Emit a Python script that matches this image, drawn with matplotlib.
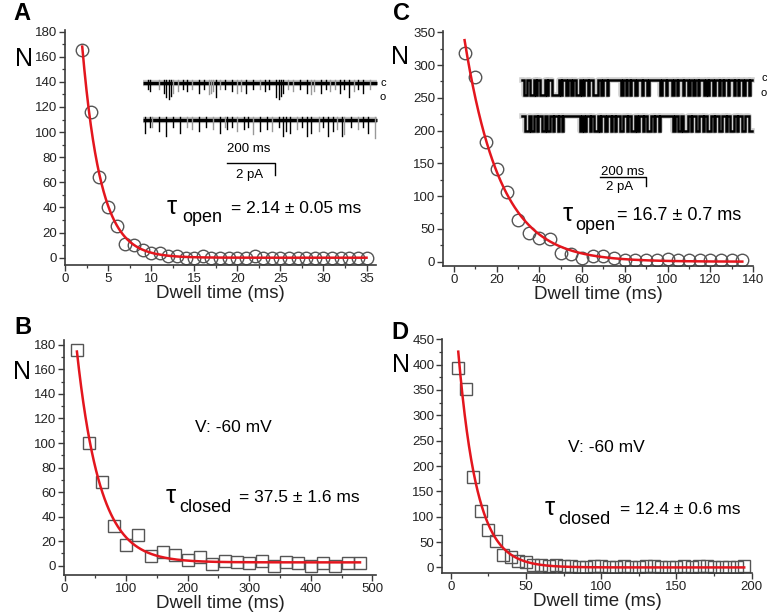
import numpy as np
import matplotlib
matplotlib.use("Agg")
import matplotlib.pyplot as plt
from matplotlib.ticker import MultipleLocator

plt.rcParams['font.family'] = ['Liberation Sans', 'DejaVu Sans']

# ---- histogram data ----
tA = list(range(2, 36))
nA = [165, 116, 64, 40, 25, 11, 10, 6, 4, 4, 1, 1, 0, 0, 1, 0, 0, 0, 0, 0,
      1, 0, 0, 0, 0, 0, 0, 0, 0, 0, 0, 0, 0, 0]
tC = list(range(5, 140, 5))
nC = [318, 282, 182, 141, 106, 63, 43, 36, 35, 14, 12, 6, 9, 8, 5, 3, 2, 2,
      2, 4, 3, 2, 2, 3, 2, 2, 3]
tB = list(range(20, 500, 20))
nB = [176, 100, 68, 32, 17, 25, 8, 11, 9, 5, 7, 1, 4, 3, 2, 4, 0, 3, 2, 0,
      2, 0, 2, 2]
tD = list(range(5, 200, 5))
nD = [394, 351, 178, 112, 74, 52, 25, 20, 12, 11, 5, 4, 2, 5, 2, 2, 1, 1,
      2, 2, 1, 1, 2, 1, 1, 2, 2, 1, 1, 1, 2, 1, 2, 2, 1, 1, 1, 1, 2]

# single exponential fits: amplitude, tau (ms), offset
fitA = (428, 2.14, 0)
fitC = (456, 16.7, 0)
fitB = (293, 37.5, 2.7)
fitD = (637, 12.4, 0)

# ---- single channel traces (positions as fraction of trace length) ----
# panel A: brief openings, (position, depth, dark?)
spikesA1 = [(0.02, 0.4, 1), (0.03, 0.5, 1), (0.07, 0.4, 0), (0.09, 0.6, 1), (0.10, 0.9, 1),
            (0.11, 1.0, 1), (0.12, 0.8, 1), (0.13, 0.6, 0), (0.15, 0.5, 0), (0.17, 0.4, 1),
            (0.19, 0.5, 1), (0.21, 0.4, 0), (0.24, 0.6, 1), (0.26, 0.4, 1), (0.28, 0.7, 0),
            (0.29, 0.6, 0), (0.30, 0.5, 0), (0.31, 0.9, 1), (0.33, 0.4, 0), (0.35, 0.4, 1),
            (0.38, 0.5, 1), (0.40, 0.6, 0), (0.42, 0.5, 0), (0.44, 0.6, 1), (0.47, 0.4, 1),
            (0.50, 0.4, 0), (0.52, 0.5, 1), (0.54, 0.4, 1), (0.57, 0.9, 1), (0.58, 1.0, 1),
            (0.59, 0.8, 1), (0.60, 0.6, 1), (0.62, 0.4, 0), (0.64, 0.5, 0), (0.67, 0.4, 1),
            (0.70, 0.6, 1), (0.72, 0.7, 0), (0.73, 0.5, 0), (0.76, 0.6, 1), (0.78, 0.4, 1),
            (0.80, 0.5, 0), (0.82, 0.4, 0), (0.84, 0.6, 1), (0.86, 0.4, 1), (0.88, 0.9, 1),
            (0.90, 0.5, 0), (0.92, 0.4, 1), (0.94, 0.6, 1), (0.97, 0.4, 0)]
spikesA2 = [(0.01, 0.7, 1), (0.03, 0.4, 1), (0.04, 0.4, 0), (0.07, 0.6, 1), (0.10, 0.9, 1),
            (0.13, 0.4, 1), (0.16, 0.7, 1), (0.19, 0.4, 0), (0.21, 0.5, 0), (0.24, 0.6, 1),
            (0.27, 0.4, 1), (0.30, 0.5, 0), (0.33, 0.7, 1), (0.35, 0.4, 0), (0.36, 0.5, 1),
            (0.38, 0.4, 1), (0.40, 0.6, 0), (0.43, 0.5, 1), (0.45, 0.4, 1), (0.47, 0.8, 0),
            (0.50, 0.6, 1), (0.53, 0.5, 1), (0.55, 0.6, 0), (0.58, 0.4, 1), (0.60, 0.9, 1),
            (0.61, 0.6, 1), (0.63, 0.7, 1), (0.66, 0.5, 0), (0.68, 0.4, 1), (0.70, 0.9, 1),
            (0.72, 0.7, 1), (0.75, 0.6, 0), (0.77, 0.4, 1), (0.79, 0.9, 1), (0.81, 0.6, 1),
            (0.83, 0.5, 0), (0.85, 0.9, 1), (0.86, 0.8, 0), (0.89, 0.4, 1), (0.92, 0.5, 0),
            (0.94, 0.4, 1), (0.96, 0.7, 1), (0.99, 1.0, 0)]
# panel C: bursts, points where the trace toggles between closed (c) and open (o)
togglesC1 = [0.01, 0.02, 0.035, 0.05, 0.06, 0.065, 0.08, 0.10, 0.11, 0.115, 0.13, 0.16,
             0.17, 0.175, 0.19, 0.20, 0.215, 0.22, 0.235, 0.25, 0.26, 0.27, 0.285, 0.29,
             0.31, 0.33, 0.345, 0.35, 0.37, 0.375, 0.43, 0.44, 0.45, 0.455, 0.47, 0.475,
             0.49, 0.50, 0.52, 0.525, 0.545, 0.55, 0.60, 0.61, 0.625, 0.63, 0.65, 0.66,
             0.675, 0.68, 0.70, 0.705, 0.72, 0.73, 0.745, 0.75, 0.765, 0.77, 0.79, 0.80,
             0.81, 0.815, 0.83, 0.84, 0.855, 0.86, 0.875, 0.88, 0.895, 0.90, 0.92, 0.925,
             0.94, 0.945, 0.96, 0.97, 0.985, 0.99]
togglesC2 = [0.015, 0.03, 0.04, 0.05, 0.065, 0.07, 0.085, 0.10, 0.11, 0.12, 0.135, 0.14,
             0.155, 0.16, 0.175, 0.18, 0.25, 0.26, 0.27, 0.28, 0.295, 0.30, 0.315, 0.33,
             0.34, 0.345, 0.36, 0.37, 0.385, 0.39, 0.405, 0.41, 0.425, 0.44, 0.455, 0.46,
             0.475, 0.49, 0.50, 0.51, 0.525, 0.53, 0.545, 0.56, 0.575, 0.58, 0.595, 0.60,
             0.655, 0.665, 0.68, 0.69, 0.70, 0.72, 0.735, 0.74, 0.755, 0.77, 0.785, 0.79,
             0.805, 0.82, 0.835, 0.84, 0.855, 0.87, 0.885, 0.89, 0.905, 0.92, 0.935, 0.94,
             0.955, 0.97, 0.985]

W, H = 767, 613
fig = plt.figure(figsize=(W / 100, H / 100), dpi=100)


def rect(l, t, r, b):
    return [l / W, 1 - b / H, (r - l) / W, (b - t) / H]


def ftxt(x, y, s, **kw):
    fig.text(x / W, 1 - y / H, s, **kw)


red = '#e3161e'
dark = '#3a3a3a'


def panel(box, t, n, fit, marker, msize, xlim, ylim, xmaj, xmin, ymaj, ymin):
    ax = fig.add_axes(rect(*box))
    a, tau, c = fit
    tt = np.linspace(t[0], t[-1], 400)
    ax.plot(t, n, linestyle='none', marker=marker, markersize=msize,
            markerfacecolor='none', markeredgecolor='#555555', markeredgewidth=1.0, zorder=2)
    ax.plot(tt, a * np.exp(-tt / tau) + c, color=red, lw=1.8, zorder=3)
    ax.set_xlim(*xlim)
    ax.set_ylim(*ylim)
    ax.xaxis.set_major_locator(MultipleLocator(xmaj))
    ax.xaxis.set_minor_locator(MultipleLocator(xmin))
    ax.yaxis.set_major_locator(MultipleLocator(ymaj))
    ax.yaxis.set_minor_locator(MultipleLocator(ymin))
    for s in ['top', 'right']:
        ax.spines[s].set_visible(False)
    for s in ['left', 'bottom']:
        ax.spines[s].set_color(dark)
        ax.spines[s].set_linewidth(1.2)
    ax.tick_params(which='major', length=4, width=1, color=dark, labelsize=9.5,
                   labelcolor='#222222', pad=1.5)
    ax.tick_params(which='minor', length=2.5, width=0.9, color=dark)
    ax.set_xlabel('Dwell time (ms)', fontsize=13.5, labelpad=0, color='#222222')
    ax.patch.set_alpha(0)
    return ax


panel((65, 30, 376, 265), tA, nA, fitA, 'o', 9, (0, 36.1), (-5.8, 181.3), 5, 2.5, 20, 10)
panel((443, 31, 753, 266), tC, nC, fitC, 'o', 9, (-5.1, 140), (-6.6, 352), 20, 10, 50, 25)
panel((64, 340, 376, 575), tB, nB, fitB, 's', 8, (-1, 506), (-7.6, 184), 100, 50, 20, 10)
panel((442, 339, 752, 573), tD, nD, fitD, 's', 8, (-5.8, 200.2), (-11, 450.6), 50, 25, 50, 25)

# panel letters and N labels
for (x, y, s) in [(22, 14, 'A'), (401, 14, 'C'), (23, 328, 'B'), (400, 332, 'D')]:
    ftxt(x, y, s, fontsize=17, fontweight='bold', ha='center', va='center')
for (x, y) in [(24, 59), (400, 57), (22, 372), (401, 365)]:
    ftxt(x, y, 'N', fontsize=18, ha='center', va='center')


# tau annotations: tau glyph, subscript, remainder each placed separately
def tau_label(xt, xs, xr, y, sub, rest, size=12.5):
    ftxt(xt, y - 2, 'τ', fontsize=18.5, ha='left', va='center')
    ftxt(xs, y + 9, sub, fontsize=13, ha='left', va='center')
    ftxt(xr, y, rest, fontsize=size, ha='left', va='center')


tau_label(167, 182, 231, 209, 'open', '= 2.14 ± 0.05 ms')
tau_label(563, 575, 617, 216, 'open', '= 16.7 ± 0.7 ms', 13)
tau_label(166, 179, 239, 498, 'closed', '= 37.5 ± 1.6 ms')
tau_label(545, 558, 620, 510, 'closed', '= 12.4 ± 0.6 ms')

ftxt(233, 428, 'V: -60 mV', fontsize=12.5, ha='center', va='center')
ftxt(606, 447, 'V: -60 mV', fontsize=12.5, ha='center', va='center')

# ---- traces drawn in an overlay axes using pixel coordinates ----
ov = fig.add_axes([0, 0, 1, 1])
ov.set_xlim(0, W)
ov.set_ylim(H, 0)
ov.axis('off')
ov.patch.set_alpha(0)


def brief_trace(x0, x1, y0, depth, spikes):
    ov.plot([x0, x1], [y0 - 0.5, y0 - 0.5], color='#888888', lw=4.5, alpha=0.5,
            solid_capstyle='butt')
    ov.plot([x0, x1], [y0, y0], color='black', lw=2.4, solid_capstyle='butt')
    for p, d, k in spikes:
        xx = x0 + p * (x1 - x0)
        ov.plot([xx, xx], [y0 - 3, y0 + d * depth], color='black' if k else '#999999', lw=1.0)


def burst_trace(x0, x1, yc, yo, toggles):
    xs = [x0]
    ys = [yc]
    state = 0
    for p in toggles:
        xx = x0 + p * (x1 - x0)
        xs += [xx, xx]
        ys += [yo if state else yc, yc if state else yo]
        state = 1 - state
    xs.append(x1)
    ys.append(yo if state else yc)
    ov.plot(xs, ys, color='#777777', lw=4, alpha=0.35)
    ov.plot(xs, ys, color='black', lw=1.8, solid_joinstyle='miter')


brief_trace(143, 377, 83, 16, spikesA1)
brief_trace(143, 377, 120, 18, spikesA2)
ftxt(383, 83, 'c', fontsize=8, ha='center', va='center')
ftxt(383, 97, 'o', fontsize=8, ha='center', va='center')
ftxt(249, 149, '200 ms', fontsize=9.5, ha='center', va='center')
ov.plot([227, 275, 275], [163, 163, 175], color='black', lw=1.0)
ftxt(250, 175, '2 pA', fontsize=9.5, ha='center', va='center')

burst_trace(522, 752, 80, 95, togglesC1)
burst_trace(522, 752, 116, 131, togglesC2)
ftxt(764, 78, 'c', fontsize=8, ha='center', va='center')
ftxt(764, 93, 'o', fontsize=8, ha='center', va='center')
ftxt(623, 172, '200 ms', fontsize=9.5, ha='center', va='center')
ov.plot([600, 646, 646], [177, 177, 186], color='black', lw=1.0)
ftxt(620, 187, '2 pA', fontsize=9.5, ha='center', va='center')

fig.savefig('out.png', dpi=100)
